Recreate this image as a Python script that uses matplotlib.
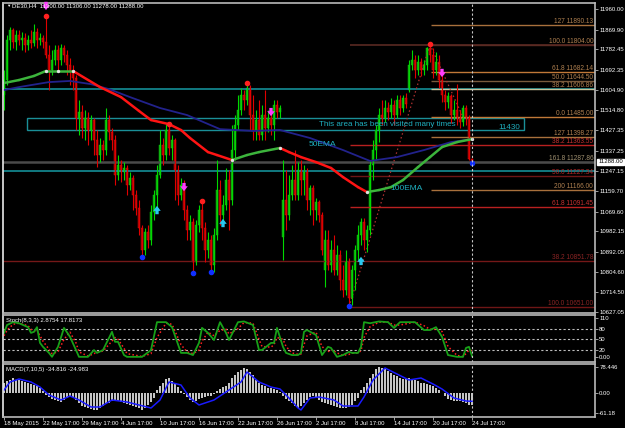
import numpy as np
import matplotlib.pyplot as plt
from matplotlib.patches import Rectangle
from matplotlib.transforms import offset_copy

# ---- price bars (DE30 H4) ----
opens = [11582, 11648, 11824, 11868, 11815, 11846, 11824, 11833, 11802, 11824,
         11811, 11859, 11824, 11833, 11815, 11758, 11692, 11736, 11780, 11736,
         11789, 11758, 11714, 11683, 11657, 11481, 11507, 11437, 11481, 11428,
         11472, 11384, 11318, 11362, 11340, 11472, 11419, 11384, 11230, 11274,
         11243, 11261, 11186, 11217, 11142, 11085, 10997, 10900, 10979, 10944,
         11067, 11142, 11230, 11362, 11318, 11428, 11349, 11384, 11252, 11142,
         11186, 11076, 10988, 11023, 10847, 11010, 11076, 10997, 10900, 10944,
         10834, 10966, 11164, 11054, 11098, 11208, 11120, 11340, 11450, 11516,
         11582, 11560, 11613, 11494, 11428, 11472, 11406, 11494, 11437, 11481,
         11450, 11538, 11507, 10957, 11120, 11054, 11142, 11208, 11142, 11252,
         11208, 11243, 11120, 11173, 11076, 11111, 11054, 10812, 10944, 10834,
         10900, 10812, 10878, 10768, 10724, 10847, 10689, 10812, 10900, 10966,
         11023, 10944, 10988, 11274, 11340, 11428, 11494, 11481, 11525, 11507,
         11538, 11494, 11560, 11525, 11569, 11604, 11714, 11736, 11692, 11727,
         11692, 11714, 11789, 11758, 11692, 11727, 11648, 11582, 11551, 11578,
         11494, 11516, 11481, 11463, 11525, 11481, 11300]
highs = [11692, 11846, 11881, 11877, 11868, 11868, 11859, 11855, 11846, 11868,
         11894, 11877, 11855, 11846, 11930, 11802, 11780, 11802, 11802, 11806,
         11802, 11780, 11745, 11714, 11670, 11560, 11538, 11516, 11507, 11494,
         11481, 11428, 11393, 11384, 11525, 11494, 11437, 11406, 11318, 11296,
         11287, 11274, 11243, 11230, 11164, 11120, 11010, 10997, 11010, 11098,
         11164, 11274, 11428, 11393, 11454, 11454, 11406, 11393, 11274, 11217,
         11208, 11098, 11054, 11041, 11032, 11098, 11116, 11023, 10979, 10966,
         10997, 11296, 11208, 11142, 11261, 11252, 11450, 11494, 11582, 11613,
         11604, 11635, 11626, 11582, 11516, 11560, 11538, 11604, 11516, 11516,
         11560, 11560, 11538, 11296, 11252, 11230, 11274, 11340, 11287, 11296,
         11274, 11261, 11186, 11186, 11129, 11120, 11067, 10988, 10988, 10944,
         10966, 10922, 10900, 10834, 10900, 10865, 10834, 10922, 11010, 11041,
         11041, 11010, 11296, 11384, 11450, 11525, 11560, 11560, 11551, 11569,
         11560, 11582, 11582, 11582, 11591, 11736, 11780, 11758, 11758, 11745,
         11736, 11795, 11804, 11789, 11771, 11758, 11670, 11604, 11595, 11586,
         11560, 11630, 11516, 11538, 11538, 11494, 11306]
lows = [11516, 11626, 11780, 11789, 11780, 11802, 11780, 11771, 11780, 11789,
        11798, 11789, 11802, 11789, 11745, 11604, 11670, 11714, 11692, 11714,
        11727, 11670, 11626, 11604, 11428, 11406, 11393, 11384, 11362, 11384,
        11318, 11265, 11287, 11296, 11318, 11384, 11340, 11186, 11208, 11199,
        11208, 11142, 11164, 11076, 11054, 10966, 10869, 10878, 10909, 10922,
        11032, 11076, 11217, 11274, 11296, 11318, 11296, 11120, 11098, 11120,
        11032, 10944, 10944, 10799, 10834, 10979, 10944, 10847, 10865, 10803,
        10803, 10944, 11010, 11023, 11076, 10988, 11098, 11296, 11428, 11494,
        11516, 11538, 11428, 11384, 11384, 11384, 11384, 11384, 11419, 11406,
        11384, 11481, 11481, 10856, 10988, 11032, 11120, 11120, 11120, 11142,
        11142, 11076, 11054, 11010, 11032, 11023, 10878, 10737, 10812, 10803,
        10790, 10790, 10724, 10693, 10702, 10651, 10658, 10724, 10856, 10922,
        10900, 10891, 10966, 11208, 11296, 11375, 11450, 11463, 11472, 11481,
        11450, 11481, 11494, 11507, 11525, 11595, 11692, 11657, 11670, 11666,
        11670, 11692, 11727, 11657, 11670, 11613, 11551, 11516, 11525, 11459,
        11472, 11450, 11437, 11446, 11450, 11296, 11278]
closes = [11648, 11824, 11868, 11815, 11846, 11824, 11833, 11802, 11824, 11811,
          11859, 11824, 11833, 11815, 11758, 11692, 11736, 11780, 11736, 11789,
          11758, 11714, 11683, 11657, 11481, 11507, 11437, 11481, 11428, 11472,
          11384, 11318, 11362, 11340, 11472, 11419, 11384, 11230, 11274, 11243,
          11261, 11186, 11217, 11142, 11085, 10997, 10900, 10979, 10944, 11067,
          11142, 11230, 11362, 11318, 11428, 11349, 11384, 11252, 11142, 11186,
          11076, 10988, 11023, 10847, 11010, 11076, 10997, 10900, 10944, 10834,
          10966, 11164, 11054, 11098, 11208, 11120, 11340, 11450, 11516, 11582,
          11560, 11613, 11494, 11428, 11472, 11406, 11494, 11437, 11481, 11450,
          11538, 11507, 11525, 11120, 11054, 11142, 11208, 11142, 11252, 11208,
          11243, 11120, 11173, 11076, 11111, 11054, 10900, 10944, 10834, 10900,
          10812, 10878, 10768, 10724, 10847, 10689, 10812, 10900, 10966, 11023,
          10944, 10988, 11274, 11340, 11428, 11494, 11481, 11525, 11507, 11538,
          11494, 11560, 11525, 11569, 11542, 11714, 11736, 11692, 11727, 11692,
          11714, 11789, 11758, 11692, 11727, 11648, 11582, 11551, 11578, 11494,
          11516, 11481, 11463, 11525, 11481, 11300, 11288]

# moving averages (sampled along the bars)
ema100_idx = [0, 5, 10, 14, 18, 23, 32, 39, 45, 49, 55, 59, 62, 68, 71, 76, 81, 85, 92,
              95, 99, 104, 109, 113, 118, 121, 125, 129, 133, 138, 142, 146, 151, 156]
ema100_val = [11635, 11648, 11666, 11688, 11688, 11688, 11617, 11573, 11512, 11472,
              11454, 11428, 11393, 11331, 11318, 11296, 11318, 11331, 11349, 11331,
              11309, 11287, 11261, 11221, 11177, 11155, 11164, 11177, 11208, 11265,
              11309, 11353, 11375, 11388]
ema50_idx = [0, 5, 15, 22, 29, 35, 42, 52, 61, 72, 83, 92, 102, 113, 122, 131, 140, 149, 156]
ema50_val = [11604, 11617, 11639, 11644, 11630, 11608, 11573, 11525, 11494, 11432,
             11424, 11428, 11393, 11340, 11292, 11309, 11340, 11375, 11388]

# signal markers
top_idx = [14, 55, 66, 81, 142]
top_price = [11930, 11454, 11116, 11635, 11806]
bottom_idx = [46, 63, 69, 115, 156]
bottom_price = [10869, 10799, 10803, 10654, 11283]
buy_idx = [51, 73, 119]
buy_price = [11076, 11019, 10852]
sell_idx = [14, 60, 89, 146]
sell_price = [11974, 11177, 11507, 11679]

# fibonacci levels
fib_hi_levels = [11890.13, 11804.00, 11682.14, 11644.50, 11606.86, 11485.00, 11398.27, 11287.86, 11166.00]
fib_hi_names = ['127', '100.0', '61.8', '50.0', '38.2', '0.0', '127', '161.8', '200']
fib_lo_levels = [11363.55, 11227.34, 11091.45, 10851.78, 10651.00]
fib_lo_names = ['38.2', '50.0', '61.8', '38.2', '100.0']
support_lines = [11606.86, 11247.15]
zone_low, zone_high = 11428, 11481
last_price = 11288.00

# stochastic (8,3,3)
stoch_idx = [0, 1, 3, 5, 8, 9, 10, 11, 12, 13, 15, 16, 18, 20, 22, 24, 25, 28, 30, 31,
             33, 36, 37, 38, 40, 41, 46, 49, 51, 54, 56, 59, 61, 63, 65, 66, 68, 70, 72, 74,
             75, 78, 80, 83, 85, 86, 89, 90, 91, 93, 94, 96, 98, 99, 100, 101, 104, 106, 108, 109,
             111, 113, 115, 116, 118, 119, 120, 122, 125, 128, 130, 132, 137, 140, 142, 144, 146, 148, 151, 153,
             154, 155, 156]
stoch_main = [68, 90, 98, 95, 84, 68, 71, 84, 40, 29, 12, 1, 29, 82, 57, 20, 1, 1, 20, 12,
              20, 71, 43, 43, 6, 1, 1, 20, 98, 98, 84, 12, 12, 6, 40, 82, 68, 48, 98, 68,
              48, 98, 100, 90, 20, 20, 40, 40, 82, 29, 12, 6, 6, 12, 71, 76, 62, 6, 29, 26,
              1, 6, 15, 12, 12, 29, 98, 95, 100, 98, 82, 98, 98, 76, 76, 84, 57, 6, 1, 1,
              26, 29, 3]
stoch_signal = [60, 75, 92, 95, 88, 78, 72, 76, 60, 45, 22, 10, 15, 50, 70, 40, 15, 3, 10, 14,
                17, 45, 55, 50, 25, 10, 2, 10, 55, 95, 92, 35, 15, 10, 20, 45, 70, 60, 75, 78,
                65, 80, 97, 95, 50, 30, 28, 35, 55, 50, 30, 12, 8, 9, 35, 60, 70, 30, 15, 22,
                12, 5, 8, 11, 12, 18, 55, 85, 98, 98, 90, 90, 98, 88, 78, 78, 72, 30, 5, 2,
                10, 20, 18]

# MACD (7,10,5)
macd_hist = [30, 35, 39, 45, 40, 38, 36, 33, 30, 27, 24, 20, 14, 6, -5, -12, -18, -21, -24, -27,
             -22, -15, -8, -12, -21, -30, -38, -42, -45, -48, -51, -50, -46, -40, -34, -30, -24, -22, -25, -27,
             -30, -33, -36, -39, -42, -45, -51, -45, -36, -27, -15, 9, 20, 30, 42, 45, 36, 27, 18, 6,
             -3, -12, -20, -27, -24, -18, -14, -12, -10, -8, -4, 6, 12, 18, 21, 30, 45, 54, 63, 69,
             75, 72, 63, 54, 39, 30, 24, 20, 15, 14, 12, 9, 3, -9, -18, -24, -30, -38, -45, -40,
             -30, -21, -12, -9, -15, -21, -27, -30, -33, -36, -39, -42, -44, -45, -44, -42, -36, -24, -14, 9,
             18, 30, 45, 57, 72, 78, 76, 72, 66, 60, 54, 50, 45, 42, 42, 45, 42, 39, 36, 30,
             30, 27, 24, 21, 15, 9, 0, -9, -18, -21, -24, -24, -25, -27, -30, -36, -35]
macd_sig_idx = [0, 2, 5, 9, 12, 15, 19, 22, 25, 29, 32, 36, 41, 45, 49, 52, 55, 59, 62, 65,
                70, 74, 79, 81, 85, 89, 92, 95, 98, 99, 102, 105, 110, 113, 118, 120, 123, 127, 131, 135,
                139, 143, 146, 150, 154, 156]
macd_sig = [9, 33, 42, 33, 18, -6, -21, -9, -21, -42, -42, -21, -27, -36, -45, -21, 33, 24, -15, -36,
            -21, 3, 33, 63, 33, 18, 12, -15, -45, -51, -15, -12, -21, -39, -39, -12, 39, 75, 57, 39,
            45, 27, 12, -15, -24, -25]

date_labels = ['18 May 2015', '22 May 17:00', '29 May 17:00', '4 Jun 17:00', '10 Jun 17:00',
               '16 Jun 17:00', '22 Jun 17:00', '26 Jun 17:00', '2 Jul 17:00', '8 Jul 17:00',
               '14 Jul 17:00', '20 Jul 17:00', '24 Jul 17:00']

plt.rcParams['font.family'] = ['Liberation Sans', 'DejaVu Sans']

FRAME = '#b8b8b8'
CYAN = '#1fb0c0'
SMALL = 4.3
W, H = 625, 428
XL = (-1 / 3, 591 / 3)

fig = plt.figure(figsize=(W / 100, H / 100), dpi=100, facecolor='black')
ax = fig.add_axes([3 / W, 1 - 313 / H, 592 / W, 310 / H])
ax_st = fig.add_axes([3 / W, 1 - 362 / H, 592 / W, 47 / H])
ax_md = fig.add_axes([3 / W, 1 - 417 / H, 592 / W, 53 / H])

for a in (ax, ax_st, ax_md):
    a.set_facecolor('black')
    a.set_xlim(*XL)
    for s in a.spines.values():
        s.set_color(FRAME)
        s.set_linewidth(1.2)
    a.spines['left'].set_color('#e8e8e8')
    a.yaxis.tick_right()
    a.tick_params(axis='y', colors=FRAME, labelcolor='white', labelsize=SMALL, length=2, width=0.6, pad=1)
    a.tick_params(axis='x', bottom=False, labelbottom=False)

idx = np.arange(len(closes))
o = np.array(opens, float)
c = np.array(closes, float)
hi = np.array(highs, float)
lo = np.array(lows, float)
up = c >= o

# ---- main price panel ----
ax.set_ylim(10623, 11987)

# horizontal objects behind the candles
ax.axhline(fib_lo_levels[3], color='#741818', lw=1)
for lvl in support_lines:
    ax.axhline(lvl, color='#169aa4', lw=1.1)
ax.axhline(last_price, color='#4a4a4a', lw=1.8)
ax.hlines(fib_hi_levels[1], 115.3, XL[1], color='#5a2a22', lw=1.2)
fib_lo_cols = ['#b82020', '#6e1616', '#b82020', '#741818', '#6e1616']
for lvl, col in zip(fib_lo_levels, fib_lo_cols):
    if lvl != fib_lo_levels[3]:
        ax.hlines(lvl, 115.3, XL[1], color=col, lw=1)
fib_hi_cols = ['#a8703c', '#5a2a22', '#c07838', '#7a5a3c', '#c8c49a', '#c07838', '#a8703c', '#4a4a4a', '#a8703c']
for lvl, col in zip(fib_hi_levels, fib_hi_cols):
    ax.hlines(lvl, 142.3, XL[1], color=col, lw=1)

# fib labels
for lvl, name in zip(fib_hi_levels, fib_hi_names):
    col = '#b08050' if name != '161.8' else '#a09070'
    ax.text(XL[1] - 0.6, lvl, f'{name} {lvl:.2f}', color=col, fontsize=4.7, ha='right', va='bottom')
for lvl, name, col in zip(fib_lo_levels, fib_lo_names, ['#c83030', '#b02828', '#c83030', '#8a2424', '#8a2424']):
    ax.text(XL[1] - 0.6, lvl, f'{name} {lvl:.2f}', color=col, fontsize=4.7, ha='right', va='bottom')

# fib base lines
ax.plot([115, 142], [fib_lo_levels[4], fib_hi_levels[1]], color='#b03030', lw=0.9, ls=(0, (1.2, 2)))
ax.plot([142, 153], [fib_hi_levels[1], fib_hi_levels[5]], color='#b03030', lw=0.9, ls=(0, (1.2, 2)))

# zone
ax.add_patch(Rectangle((7.67, zone_low), 173.3 - 7.67, zone_high - zone_low,
                       fill=False, ec='#1a8f98', lw=1))
ax.text(127.7, 11452, 'This area has been visited many times', color=CYAN, fontsize=5.8,
        ha='center', va='center')
ax.text(168.3, 11441, '11430', color=CYAN, fontsize=5.8, ha='center', va='center')

# candles
ax.vlines(idx[up], lo[up], hi[up], color='#00d800', lw=0.8)
ax.vlines(idx[~up], lo[~up], hi[~up], color='#e00000', lw=0.8)
ax.bar(idx[up], np.maximum(c - o, 3)[up], bottom=o[up], width=0.7,
       color='#14a014', edgecolor='#00e000', lw=0.3)
ax.bar(idx[~up], np.maximum(o - c, 3)[~up], bottom=c[~up], width=0.7,
       color='#a00000', edgecolor='#ff1010', lw=0.3)

# moving averages
ax.plot(ema50_idx, ema50_val, color='#22228c', lw=1.3)
for k in range(len(ema100_idx) - 1):
    rising = ema100_val[k + 1] >= ema100_val[k]
    ax.plot(ema100_idx[k:k + 2], ema100_val[k:k + 2], color='#3cb43c' if rising else '#ff1414',
            lw=1.8, solid_capstyle='round')
turns = [14, 18, 23, 76, 92, 121, 156]
ax.plot(turns, [ema100_val[ema100_idx.index(t)] for t in turns], 'o', color='#e0e0e0', ms=1.4)
ax.text(106.3, 11366, '50EMA', color=CYAN, fontsize=6, ha='center', va='center')
ax.text(134.3, 11173, '100EMA', color=CYAN, fontsize=6, ha='center', va='center')

# markers
ax.plot(top_idx, top_price, 'o', color='#ff2020', ms=3)
ax.plot(bottom_idx, bottom_price, 'o', color='#1030ff', ms=3)
asty = 'simple,head_length=0.6,head_width=0.9,tail_width=0.4'
for i, p in zip(buy_idx, buy_price):
    ax.annotate('', xy=(i, p), xycoords=offset_copy(ax.transData, fig=fig, y=3, units='points'),
                xytext=(i, p), textcoords=offset_copy(ax.transData, fig=fig, y=-3, units='points'),
                arrowprops=dict(arrowstyle=asty, fc='#28c8f0', ec='none', mutation_scale=6,
                                shrinkA=0, shrinkB=0))
for i, p in zip(sell_idx, sell_price):
    ax.annotate('', xy=(i, p), xycoords=offset_copy(ax.transData, fig=fig, y=-3, units='points'),
                xytext=(i, p), textcoords=offset_copy(ax.transData, fig=fig, y=3, units='points'),
                arrowprops=dict(arrowstyle=asty, fc='#ff3cff', ec='none', mutation_scale=6,
                                shrinkA=0, shrinkB=0))

price_ticks = [11960.00, 11869.90, 11782.45, 11692.35, 11604.90, 11514.80, 11427.35, 11337.25,
               11247.15, 11159.70, 11069.60, 10982.15, 10892.05, 10804.60, 10714.50, 10627.05]
ax.set_yticks(price_ticks)
ax.set_yticklabels([f'{v:.2f}' for v in price_ticks])
ax.annotate(f'{last_price:.2f}', xy=(1, last_price), xycoords=('axes fraction', 'data'),
            xytext=(2.2, 0), textcoords='offset points', ha='left', va='center',
            fontsize=SMALL, color='black',
            bbox=dict(boxstyle='square,pad=0.12', fc='white', ec='white'))

fig.text(6 / W, 1 - 6 / H, '\u25bc', color='white', fontsize=3.2, va='center')
fig.text(12 / W, 1 - 6 / H, 'DE30,H4  11300.00 11306.00 11278.00 11288.00',
         color='white', fontsize=SMALL, va='center')

# ---- stochastic panel ----
ax_st.set_ylim(-13.4, 118)
for lvl in (80, 50, 20):
    ax_st.axhline(lvl, color='#bdbdbd', lw=0.8, ls=(0, (2, 2)))
ax_st.plot(stoch_idx, stoch_signal, color='#ff2020', lw=1.1, ls=(0, (1, 1.5)))
ax_st.plot(stoch_idx, stoch_main, color='#18a018', lw=1.3)
ax_st.set_yticks([110, 80, 50, 20, 0])
ax_st.set_yticklabels(['110', '80', '50', '20', '0.00'])
ax_st.text(0.005, 0.88, 'Stoch(8,3,3) 2.8754 17.8173', transform=ax_st.transAxes,
           color='white', fontsize=SMALL, va='center')

# ---- MACD panel ----
ax_md.set_ylim(-72, 87)
ax_md.bar(idx, macd_hist, width=0.42, color='#c4c4c4')
ax_md.plot(macd_sig_idx, macd_sig, color='#1a1aff', lw=1.1)
ax_md.set_yticks([78.446, 0, -61.18])
ax_md.set_yticklabels(['78.446', '0.00', '-61.18'])
ax_md.text(0.005, 0.9, 'MACD(7,10,5) -34.816 -24.983', transform=ax_md.transAxes,
           color='white', fontsize=SMALL, va='center')

ax_md.set_xticks(np.arange(len(date_labels)) * 13)
ax_md.set_xticklabels(date_labels, ha='left')
ax_md.tick_params(axis='x', bottom=True, labelbottom=True, colors=FRAME, labelcolor='white',
                  labelsize=SMALL, length=2, width=0.6, pad=1)

# cursor line through all panels
for a in (ax, ax_st, ax_md):
    a.axvline(156, color='#c8c8c8', lw=0.8, ls=(0, (2, 2)))

fig.savefig('out.png', dpi=100, facecolor='black')
